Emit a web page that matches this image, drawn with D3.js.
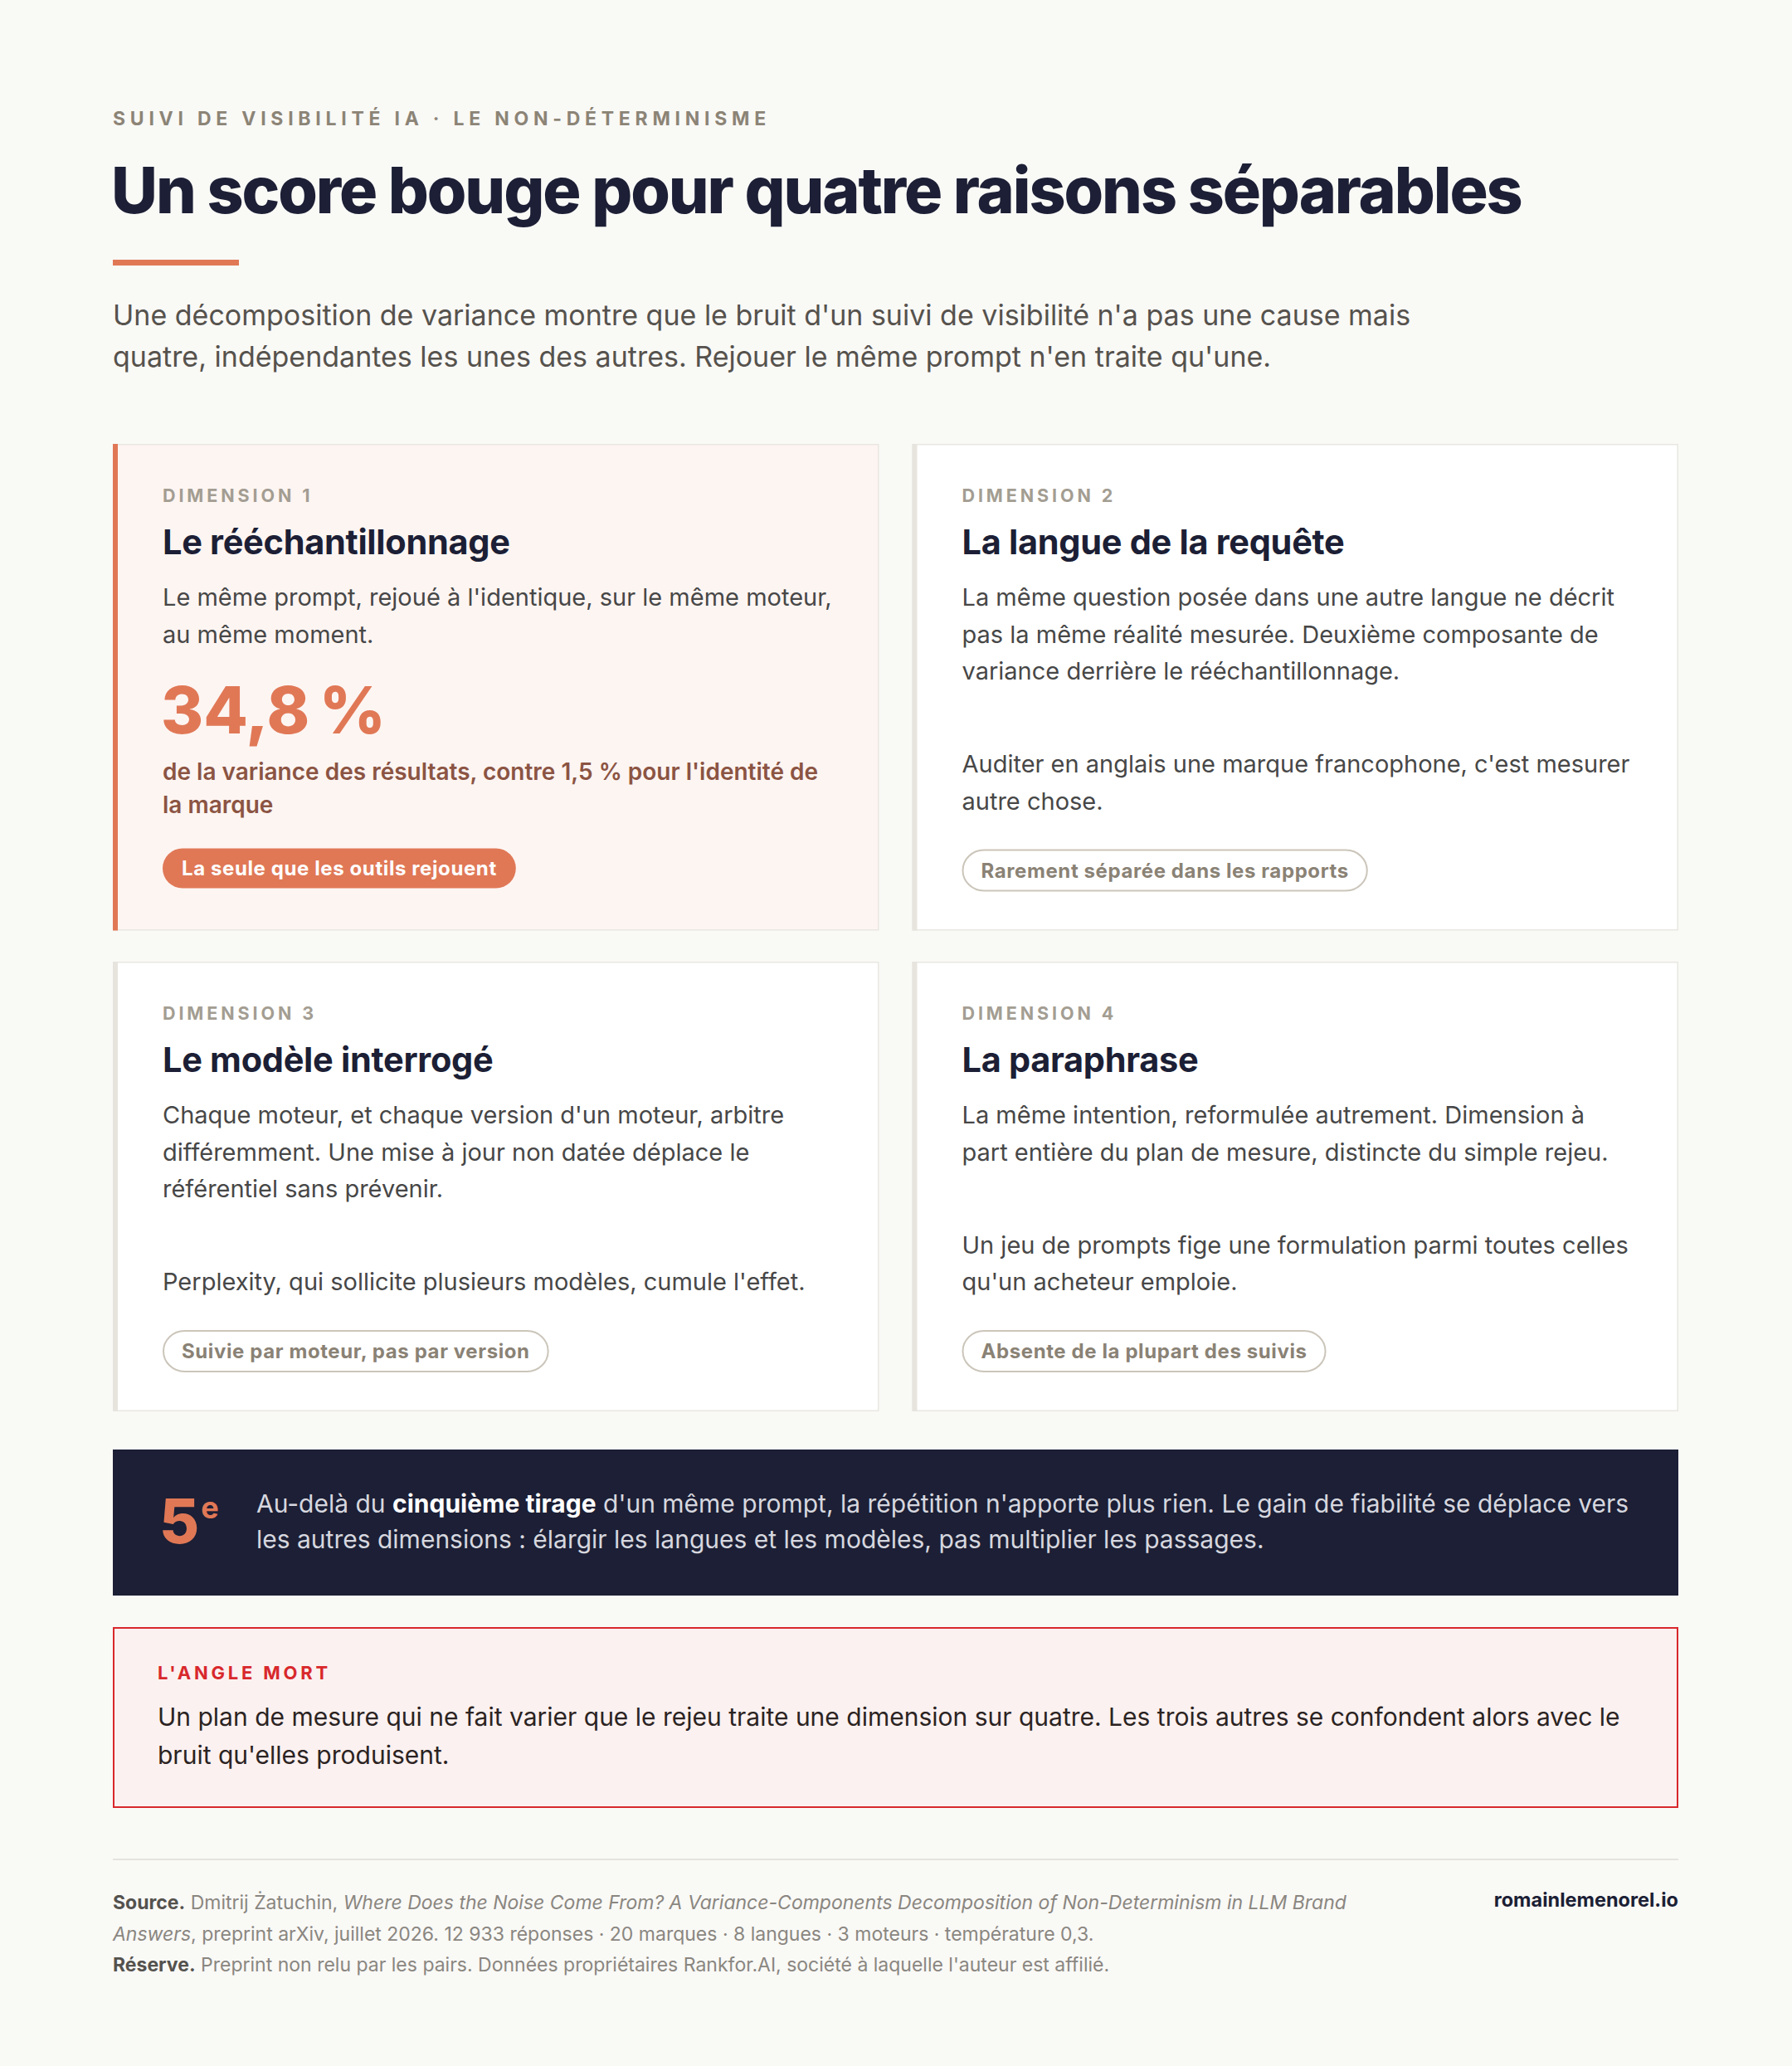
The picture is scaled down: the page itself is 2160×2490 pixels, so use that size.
<!DOCTYPE html>
<html>
<head>
<meta charset="utf-8">
<script src="https://cdn.jsdelivr.net/npm/d3@7"></script>
<style>
  html, body { margin: 0; padding: 0; background: #f9f9f6; }
  svg text { font-family: Inter, "Noto Sans", sans-serif; }
</style>
</head>
<body>
<div id="chart"></div>
<script>
var width = 2160;
var height = 2490;

// header texts
var kicker = "SUIVI DE VISIBILITÉ IA · LE NON-DÉTERMINISME";
var title = "Un score bouge pour quatre raisons séparables";
var subtitle = [
  "Une décomposition de variance montre que le bruit d'un suivi de visibilité n'a pas une cause mais",
  "quatre, indépendantes les unes des autres. Rejouer le même prompt n'en traite qu'une."
];

// the four dimensions
var dimLabels = ["DIMENSION 1", "DIMENSION 2", "DIMENSION 3", "DIMENSION 4"];
var dimTitles = ["Le rééchantillonnage", "La langue de la requête", "Le modèle interrogé", "La paraphrase"];
var dimBody = [
  ["Le même prompt, rejoué à l'identique, sur le même moteur,", "au même moment."],
  ["La même question posée dans une autre langue ne décrit", "pas la même réalité mesurée. Deuxième composante de", "variance derrière le rééchantillonnage."],
  ["Chaque moteur, et chaque version d'un moteur, arbitre", "différemment. Une mise à jour non datée déplace le", "référentiel sans prévenir."],
  ["La même intention, reformulée autrement. Dimension à", "part entière du plan de mesure, distincte du simple rejeu."]
];
var dimNote = [
  [],
  ["Auditer en anglais une marque francophone, c'est mesurer", "autre chose."],
  ["Perplexity, qui sollicite plusieurs modèles, cumule l'effet."],
  ["Un jeu de prompts fige une formulation parmi toutes celles", "qu'un acheteur emploie."]
];
var dimTags = ["La seule que les outils rejouent", "Rarement séparée dans les rapports", "Suivie par moteur, pas par version", "Absente de la plupart des suivis"];
var dimHighlight = [true, false, false, false];

// key figure of dimension 1
var resampleShare = 34.8;
var brandShare = 1.5;
var statLines = ["de la variance des résultats, contre 1,5 % pour l'identité de", "la marque"];

// banner
var drawLimit = 5;
var bannerLines = [
  [["Au-delà du ", 0], ["cinquième tirage", 1], [" d'un même prompt, la répétition n'apporte plus rien. Le gain de fiabilité se déplace vers", 0]],
  [["les autres dimensions : élargir les langues et les modèles, pas multiplier les passages.", 0]]
];

// blind spot
var alertLabel = "L'ANGLE MORT";
var alertLines = [
  "Un plan de mesure qui ne fait varier que le rejeu traite une dimension sur quatre. Les trois autres se confondent alors avec le",
  "bruit qu'elles produisent."
];

// footer (text, style) 0 normal, 1 bold, 2 italic
var footerLines = [
  [["Source.", 1], [" Dmitrij Żatuchin, ", 0], ["Where Does the Noise Come From? A Variance-Components Decomposition of Non-Determinism in LLM Brand", 2]],
  [["Answers", 2], [", preprint arXiv, juillet 2026. 12 933 réponses · 20 marques · 8 langues · 3 moteurs · température 0,3.", 0]],
  [["Réserve.", 1], [" Preprint non relu par les pairs. Données propriétaires Rankfor.AI, société à laquelle l'auteur est affilié.", 0]]
];
var siteName = "romainlemenorel.io";

var navy = "#1c1f35";
var orange = "#e07856";

var fr = d3.formatLocale({decimal: ",", thousands: "\u202f", grouping: [3], currency: ["", " €"]});
var fmtPct = fr.format(".1f");

var svg = d3.select("#chart").append("svg")
    .attr("width", width)
    .attr("height", height);

svg.append("rect").attr("width", width).attr("height", height).attr("fill", "#f9f9f6");

var left = 136, right = 2023;

// header
svg.append("text")
    .attr("x", left).attr("y", 151)
    .attr("font-size", 23).attr("font-weight", 700)
    .attr("letter-spacing", "5.75px")
    .attr("fill", "#8c8476")
    .text(kicker);

svg.append("text")
    .attr("x", left - 2).attr("y", 257)
    .attr("font-size", 77).attr("font-weight", 800)
    .attr("letter-spacing", "-2.1px")
    .attr("fill", navy)
    .text(title);

svg.append("rect")
    .attr("x", left).attr("y", 313)
    .attr("width", 152).attr("height", 7)
    .attr("fill", orange);

svg.append("g").selectAll("text")
    .data(subtitle)
    .join("text")
    .attr("x", left)
    .attr("y", function(d, i) { return 392 + i * 50; })
    .attr("font-size", 34)
    .attr("fill", "#56524d")
    .text(function(d) { return d; });

// grid of cards
var col = d3.scaleBand().domain([0, 1]).range([left, right]).paddingInner(0.0415);
var rowTop = [535, 1159];
var pad = 60;

var cards = dimLabels.map(function(label, i) {
  return {i: i, label: label, title: dimTitles[i], body: dimBody[i], note: dimNote[i], tag: dimTags[i], hi: dimHighlight[i]};
});

var lh = 44.5;
function layoutCard(c) {
  var y = 70;
  c.labelY = y;
  y += 63; c.titleY = y;
  y += 62; c.bodyY = y;
  y += (c.body.length - 1) * lh;
  if (c.hi) {
    y += 109; c.statY = y;
    y += 56; c.statTextY = y;
    y += (statLines.length - 1) * 40;
    y -= 5;
  }
  if (c.note.length) {
    y += 112; c.noteY = y;
    y += (c.note.length - 1) * lh;
  }
  y += 48; c.tagY = y;
  c.tagH = c.hi ? 48 : 51;
  c.h = y + 51 + 47;
}
cards.forEach(layoutCard);

var rowH = [0, 1].map(function(r) {
  return d3.max(cards.filter(function(c) { return Math.floor(c.i / 2) === r; }), function(c) { return c.h; });
});

var cardG = svg.append("g").selectAll("g")
    .data(cards)
    .join("g")
    .attr("transform", function(c) {
      return "translate(" + col(c.i % 2) + "," + rowTop[Math.floor(c.i / 2)] + ")";
    });

cardG.append("rect")
    .attr("x", 0.75).attr("y", 0.75)
    .attr("width", col.bandwidth() - 1.5)
    .attr("height", function(c) { return rowH[Math.floor(c.i / 2)] - 1.5; })
    .attr("fill", function(c) { return c.hi ? "#fdf5f2" : "#ffffff"; })
    .attr("stroke", "#e9e7e1")
    .attr("stroke-width", 1.5);

cardG.append("rect")
    .attr("x", 0).attr("y", 0)
    .attr("width", 6)
    .attr("height", function(c) { return rowH[Math.floor(c.i / 2)]; })
    .attr("fill", function(c) { return c.hi ? orange : "#e6e4dd"; });

cardG.append("text")
    .attr("x", pad).attr("y", function(c) { return c.labelY; })
    .attr("font-size", 21.5).attr("font-weight", 700)
    .attr("letter-spacing", "3.9px")
    .attr("fill", "#a39d92")
    .text(function(c) { return c.label; });

cardG.append("text")
    .attr("x", pad).attr("y", function(c) { return c.titleY; })
    .attr("font-size", 41.5).attr("font-weight", 700)
    .attr("letter-spacing", "-0.3px")
    .attr("fill", navy)
    .text(function(c) { return c.title; });

cardG.each(function(c) {
  var g = d3.select(this);
  g.selectAll("text.body")
    .data(c.body)
    .join("text")
    .attr("class", "body")
    .attr("x", pad)
    .attr("y", function(d, k) { return c.bodyY + k * lh; })
    .attr("font-size", 29)
    .attr("fill", "#474747")
    .text(function(d) { return d; });

  if (c.hi) {
    g.append("text")
      .attr("x", pad - 2).attr("y", c.statY)
      .attr("font-size", 78).attr("font-weight", 800)
      .attr("letter-spacing", "-2px")
      .attr("fill", orange)
      .text(fmtPct(resampleShare) + "\u202f%");
    g.selectAll("text.stat")
      .data(statLines)
      .join("text")
      .attr("class", "stat")
      .attr("x", pad)
      .attr("y", function(d, k) { return c.statTextY + k * 40; })
      .attr("font-size", 28).attr("font-weight", 600)
      .attr("fill", "#8b5443")
      .text(function(d) { return d; });
  }

  g.selectAll("text.note")
    .data(c.note)
    .join("text")
    .attr("class", "note")
    .attr("x", pad)
    .attr("y", function(d, k) { return c.noteY + k * lh; })
    .attr("font-size", 29)
    .attr("fill", "#474747")
    .text(function(d) { return d; });

  // tag pill sized on its text
  var t = g.append("text")
    .attr("x", pad + 23).attr("y", c.tagY + (c.hi ? 32 : 34))
    .attr("font-size", 24).attr("font-weight", 700)
    .attr("letter-spacing", "0.6px")
    .attr("fill", c.hi ? "#ffffff" : "#8a8275")
    .text(c.tag);
  var tw = t.node().getComputedTextLength();
  g.insert("rect", function() { return t.node(); })
    .attr("x", pad + (c.hi ? 0 : 1)).attr("y", c.tagY + (c.hi ? 0 : 1))
    .attr("width", tw + 46 - (c.hi ? 0 : 2)).attr("height", c.tagH - (c.hi ? 0 : 2))
    .attr("rx", c.tagH / 2)
    .attr("fill", c.hi ? orange : "none")
    .attr("stroke", c.hi ? "none" : "#cbc5ba")
    .attr("stroke-width", 2);
});

// banner
var bannerTop = rowTop[1] + rowH[1] + 46;
var banner = svg.append("g").attr("transform", "translate(" + left + "," + bannerTop + ")");
banner.append("rect")
    .attr("width", right - left).attr("height", 176)
    .attr("fill", navy);
var big = banner.append("text")
    .attr("x", 56).attr("y", 113)
    .attr("font-size", 74).attr("font-weight", 800)
    .attr("fill", orange);
big.append("tspan").text(d3.format("d")(drawLimit));
big.append("tspan").attr("dx", 2).attr("dy", -30).attr("font-size", 36).attr("font-weight", 700).text("e");

banner.selectAll("text.line")
    .data(bannerLines)
    .join("text")
    .attr("class", "line")
    .attr("x", 173)
    .attr("y", function(d, i) { return 76 + i * 43; })
    .attr("font-size", 30)
    .attr("fill", "#d6d7df")
    .selectAll("tspan")
    .data(function(d) { return d; })
    .join("tspan")
    .attr("font-weight", function(s) { return s[1] ? 700 : 400; })
    .attr("fill", function(s) { return s[1] ? "#ffffff" : null; })
    .text(function(s) { return s[0]; });

// blind spot box
var alertTop = bannerTop + 176 + 38;
var alert = svg.append("g").attr("transform", "translate(" + left + "," + alertTop + ")");
alert.append("rect")
    .attr("x", 1).attr("y", 1)
    .attr("width", right - left - 2).attr("height", 216)
    .attr("fill", "#fbf1f0")
    .attr("stroke", "#d8282c")
    .attr("stroke-width", 2);
alert.append("text")
    .attr("x", 54).attr("y", 63)
    .attr("font-size", 22).attr("font-weight", 700)
    .attr("letter-spacing", "3.8px")
    .attr("fill", "#d8282c")
    .text(alertLabel);
alert.selectAll("text.body")
    .data(alertLines)
    .join("text")
    .attr("class", "body")
    .attr("x", 54)
    .attr("y", function(d, i) { return 119 + i * 46; })
    .attr("font-size", 30)
    .attr("fill", "#2b2322")
    .text(function(d) { return d; });

// footer
var footTop = alertTop + 218 + 62;
svg.append("line")
    .attr("x1", left).attr("x2", right)
    .attr("y1", footTop).attr("y2", footTop)
    .attr("stroke", "#e4e3de").attr("stroke-width", 2);

svg.append("g").selectAll("text")
    .data(footerLines)
    .join("text")
    .attr("x", left)
    .attr("y", function(d, i) { return footTop + 60 + i * 37.5; })
    .attr("font-size", 23)
    .attr("fill", "#8a8680")
    .selectAll("tspan")
    .data(function(d) { return d; })
    .join("tspan")
    .attr("font-weight", function(s) { return s[1] === 1 ? 700 : 400; })
    .attr("font-style", function(s) { return s[1] === 2 ? "italic" : null; })
    .attr("fill", function(s) { return s[1] === 1 ? "#54524e" : null; })
    .text(function(s) { return s[0]; });

svg.append("text")
    .attr("x", right).attr("y", footTop + 57)
    .attr("text-anchor", "end")
    .attr("font-size", 23.5).attr("font-weight", 700)
    .attr("fill", navy)
    .text(siteName);
</script>
</body>
</html>
